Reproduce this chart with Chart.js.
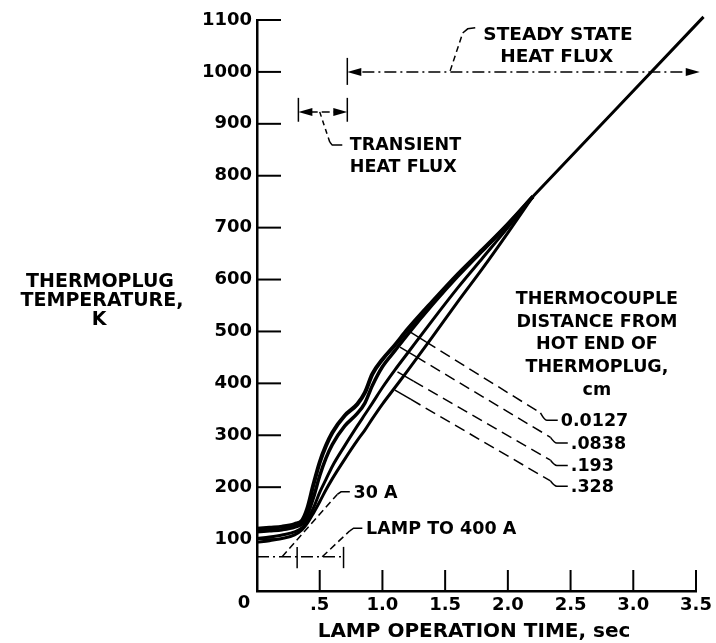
<!DOCTYPE html>
<html>
<head>
<meta charset="utf-8">
<script src="https://cdn.jsdelivr.net/npm/chart.js@4.4.0/dist/chart.umd.min.js"></script>
<style>
  html, body { margin: 0; padding: 0; background: #fff; }
  #wrap { width: 716px; height: 643px; }
</style>
</head>
<body>
<div id="wrap"><canvas id="chart" width="716" height="643"></canvas></div>
<script>
// lamp operation time, sec (shared by the four thermocouple curves)
var times = [0, 0.1, 0.2, 0.3, 0.36, 0.4, 0.45, 0.5, 0.55, 0.6, 0.7, 0.8, 0.86, 0.92, 1.0, 1.1, 1.2, 1.4, 1.6, 1.8, 2.0, 2.2];

// thermoplug temperature, K, per thermocouple distance from hot end
var temp_0127 = [120, 122, 124, 129, 136, 158, 205, 248, 280, 305, 338, 360, 382, 418, 446, 474, 504, 558, 610, 658, 707, 760];
var temp_0838 = [114, 116, 118, 123, 130, 146, 180, 222, 256, 282, 318, 342, 362, 396, 432, 463, 494, 552, 606, 656, 706, 760];
var temp_193  = [101, 104, 108, 114, 122, 136, 160, 190, 215, 240, 280, 318, 340, 362, 392, 426, 458, 522, 584, 642, 700, 760];
var temp_328  = [94, 97, 101, 108, 118, 130, 150, 172, 195, 216, 254, 290, 310, 332, 360, 392, 424, 490, 557, 622, 690, 760];

// after the curves merge (steady state)
var tailTimes = [2.2, 3.56];
var tailTemps = [760, 1106];

var distanceLabels = ["0.0127", ".0838", ".193", ".328"];
var xTickLabels = { 0.5: ".5", 1: "1.0", 1.5: "1.5", 2: "2.0", 2.5: "2.5", 3: "3.0", 3.5: "3.5" };

function pts(xs, ys) {
    return xs.map(function (t, i) { return { x: t, y: ys[i] }; });
}

function curve(data, w) {
    return {
        data: data,
        borderColor: "#000",
        borderWidth: w,
        pointRadius: 0,
        fill: false,
        cubicInterpolationMode: "monotone"
    };
}

var FONT = '"DejaVu Sans", sans-serif';

// inner ticks, arrows, leaders and labels
var marks = {
    id: "marks",
    afterDatasetsDraw: function (chart) {
        var ctx = chart.ctx;
        var xs = chart.scales.x, ys = chart.scales.y;
        var X = function (t) { return xs.getPixelForValue(t); };
        var Y = function (v) { return ys.getPixelForValue(v); };

        function seg(x1, y1, x2, y2) {
            ctx.beginPath(); ctx.moveTo(x1, y1); ctx.lineTo(x2, y2); ctx.stroke();
        }
        function poly(p) {
            ctx.beginPath(); ctx.moveTo(p[0][0], p[0][1]);
            for (var i = 1; i < p.length; i++) ctx.lineTo(p[i][0], p[i][1]);
            ctx.stroke();
        }
        function head(px, py, dir) {
            ctx.beginPath();
            ctx.moveTo(px, py);
            ctx.lineTo(px - dir * 14, py - 4);
            ctx.lineTo(px - dir * 14, py + 4);
            ctx.closePath(); ctx.fill();
        }
        function text(s, px, py, align, size) {
            ctx.font = "bold " + size + "px " + FONT;
            ctx.textAlign = align;
            ctx.textBaseline = "middle";
            ctx.fillText(s, px, py);
        }

        ctx.save();
        ctx.strokeStyle = "#000";
        ctx.fillStyle = "#000";

        // ticks pointing inside
        ctx.lineWidth = 2;
        ys.ticks.forEach(function (tk) {
            if (tk.value === 0) return;
            seg(xs.left, Y(tk.value), xs.left + 24, Y(tk.value));
        });
        xs.ticks.forEach(function (tk) {
            if (tk.value === 0) return;
            seg(X(tk.value), ys.bottom, X(tk.value), ys.bottom - 21);
        });

        // steady state heat flux
        ctx.lineWidth = 1.5;
        seg(X(0.72), Y(1027), X(0.72), Y(975));
        ctx.setLineDash([12, 4, 2, 4]);
        seg(X(0.84), Y(1000), X(3.42), Y(1000));
        ctx.setLineDash([]);
        head(X(0.72), Y(1000), -1);
        head(X(3.53), Y(1000), 1);
        ctx.setLineDash([6, 4]);
        seg(X(1.54), Y(1002), X(1.64), Y(1075));
        ctx.setLineDash([]);
        poly([[X(1.64), Y(1075)], [X(1.68), Y(1083)], [X(1.74), Y(1085)]]);

        // transient heat flux
        seg(X(0.33), Y(950), X(0.33), Y(904));
        seg(X(0.72), Y(950), X(0.72), Y(904));
        ctx.setLineDash([8, 4]);
        seg(X(0.42), Y(923), X(0.63), Y(923));
        ctx.setLineDash([]);
        head(X(0.33), Y(923), -1);
        head(X(0.72), Y(923), 1);
        ctx.setLineDash([5, 4]);
        poly([[X(0.5), Y(923)], [X(0.58), Y(865)]]);
        ctx.setLineDash([]);
        poly([[X(0.58), Y(865)], [X(0.60), Y(859)], [X(0.68), Y(859)]]);

        // lamp to 400 A
        ctx.setLineDash([12, 4, 2, 4]);
        seg(X(0), Y(66), X(0.69), Y(66));
        ctx.setLineDash([]);
        seg(X(0.32), Y(85), X(0.32), Y(44));
        seg(X(0.69), Y(85), X(0.69), Y(44));
        ctx.setLineDash([7, 4]);
        seg(X(0.2), Y(66), X(0.64), Y(186));
        seg(X(0.52), Y(66), X(0.74), Y(116));
        ctx.setLineDash([]);
        poly([[X(0.64), Y(186)], [X(0.67), Y(191)], [X(0.74), Y(191)]]);
        poly([[X(0.74), Y(116)], [X(0.77), Y(121)], [X(0.84), Y(121)]]);

        // thermocouple leaders
        var leaders = [
            [1.22, 499, 2.26, 343, 329],
            [1.14, 470, 2.34, 296, 285],
            [1.12, 422, 2.34, 252, 242],
            [1.10, 387, 2.34, 212, 202]
        ];
        leaders.forEach(function (l, i) {
            var sx = X(l[0]), sy = Y(l[1]), ex = X(l[2]), ey = Y(l[3]);
            var k = (ey - sy) / (ex - sx);
            ctx.lineWidth = 1.5;
            seg(sx, sy, sx + 16, sy + 16 * k);
            ctx.setLineDash([11, 6]);
            seg(sx + 16, sy + 16 * k, ex, ey);
            ctx.setLineDash([]);
            var hx = X(l[2] + 0.05), hy = Y(l[4]);
            ctx.beginPath();
            ctx.moveTo(ex, ey);
            ctx.quadraticCurveTo(ex + 4, hy, hx, hy);
            ctx.lineTo(hx + 11, hy);
            ctx.stroke();
            text(distanceLabels[i], hx + 14, hy + 1, "left", 17.5);
        });

        // labels
        text("STEADY STATE", X(2.40), Y(1071), "center", 18.5);
        text("HEAT FLUX", X(2.39), Y(1029), "center", 18.5);
        text("TRANSIENT", X(0.74), Y(859), "left", 17.5);
        text("HEAT FLUX", X(0.74), Y(815), "left", 17.5);
        text("30 A", X(0.77), Y(188), "left", 17.5);
        text("LAMP TO 400 A", X(0.87), Y(118), "left", 17.5);

        var block = ["THERMOCOUPLE", "DISTANCE FROM", "HOT END OF", "THERMOPLUG,", "cm"];
        var blockT = [561, 518, 474, 430, 387];
        block.forEach(function (s, i) { text(s, X(2.71), Y(blockT[i]), "center", 17.5); });

        // axis titles and shared origin label
        text("THERMOPLUG", 100, 282, "center", 19);
        text("TEMPERATURE,", 102, 301, "center", 19);
        text("K", 99, 320, "center", 19);
        text("LAMP OPERATION TIME, sec", X(1.73), 632, "center", 20);
        text("0", X(0) - 13, ys.bottom + 12, "center", 18);

        ctx.restore();
    }
};

new Chart(document.getElementById("chart"), {
    type: "line",
    data: {
        datasets: [
            curve(pts(times, temp_0127), 4),
            curve(pts(times, temp_0838), 3.5),
            curve(pts(times, temp_193), 3),
            curve(pts(times, temp_328), 3),
            Object.assign(curve(pts(tailTimes, tailTemps), 3), { clip: false })
        ]
    },
    options: {
        responsive: false,
        animation: false,
        devicePixelRatio: 1,
        layout: { padding: { left: 197, right: 20, top: 20, bottom: 20 } },
        plugins: { legend: { display: false }, tooltip: { enabled: false } },
        scales: {
            x: {
                type: "linear",
                min: 0, max: 3.5,
                grid: { display: false, drawTicks: false },
                border: { display: true, color: "#000", width: 2.5 },
                ticks: {
                    stepSize: 0.5, autoSkip: false, maxRotation: 0, padding: 4,
                    color: "#000",
                    font: { family: FONT, weight: "bold", size: 18 },
                    callback: function (v) { return xTickLabels[v] || ""; }
                },
                afterFit: function (s) { s.height = 32; }
            },
            y: {
                min: 0, max: 1100,
                grid: { display: false, drawTicks: false },
                border: { display: true, color: "#000", width: 2.5 },
                ticks: {
                    stepSize: 100, padding: 5,
                    color: "#000",
                    font: { family: FONT, weight: "bold", size: 18 },
                    callback: function (v) { return v === 0 ? "" : v; }
                },
                afterFit: function (s) { s.width = 60; }
            }
        }
    },
    plugins: [marks]
});
</script>
</body>
</html>
